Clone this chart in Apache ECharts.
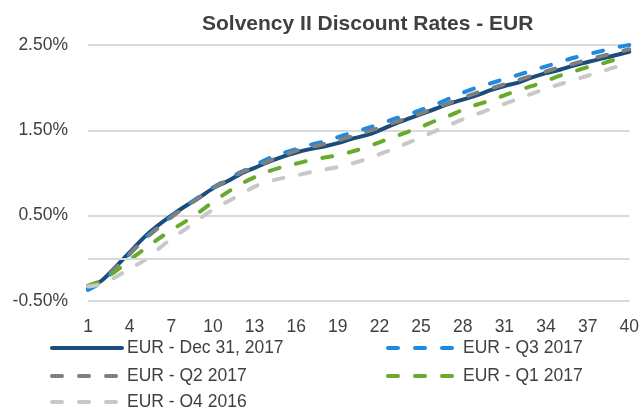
<!DOCTYPE html>
<html>
<head>
<meta charset="utf-8">
<script src="https://cdn.jsdelivr.net/npm/echarts@6/dist/echarts.min.js"></script>
<style>
html,body{margin:0;padding:0;background:#fff;}
#c{width:642px;height:407px;}
</style>
</head>
<body>
<div id="c"></div>
<script>
var maturities = [];
for (var i = 1; i <= 40; i++) maturities.push(String(i));

var yTicks = { min: -0.5, max: 2.5, interval: 1 };

var dec2017 = [-0.35,-0.26,-0.10,0.07,0.24,0.38,0.50,0.61,0.71,0.82,0.90,0.99,1.06,1.13,1.19,1.24,1.28,1.31,1.35,1.40,1.44,1.50,1.57,1.63,1.69,1.75,1.81,1.86,1.91,1.97,2.02,2.06,2.12,2.17,2.21,2.26,2.30,2.34,2.38,2.42];
var q32017 = [-0.37,-0.28,-0.12,0.05,0.22,0.36,0.49,0.61,0.72,0.83,0.92,1.01,1.09,1.17,1.23,1.28,1.33,1.37,1.42,1.47,1.52,1.57,1.63,1.68,1.74,1.80,1.87,1.94,2.00,2.05,2.10,2.15,2.20,2.25,2.30,2.35,2.39,2.43,2.47,2.50];
var q22017 = [-0.33,-0.26,-0.11,0.05,0.21,0.35,0.48,0.60,0.71,0.82,0.91,1.00,1.07,1.14,1.20,1.26,1.30,1.34,1.38,1.43,1.48,1.53,1.59,1.64,1.70,1.76,1.82,1.88,1.94,1.99,2.04,2.09,2.14,2.19,2.24,2.28,2.33,2.37,2.41,2.45];
var q12017 = [-0.32,-0.26,-0.15,-0.02,0.10,0.22,0.33,0.43,0.54,0.66,0.77,0.87,0.95,1.02,1.07,1.11,1.15,1.18,1.21,1.25,1.30,1.36,1.42,1.48,1.54,1.61,1.67,1.74,1.80,1.85,1.91,1.97,2.02,2.08,2.14,2.19,2.24,2.28,2.33,2.37];
var q42016 = [-0.33,-0.30,-0.22,-0.12,-0.03,0.10,0.23,0.34,0.46,0.57,0.66,0.75,0.84,0.90,0.94,0.97,1.01,1.04,1.07,1.11,1.16,1.22,1.28,1.35,1.42,1.49,1.56,1.63,1.69,1.75,1.81,1.87,1.93,1.99,2.04,2.09,2.14,2.19,2.24,2.28];

var seriesNames = ['EUR - Dec 31, 2017','EUR - Q3 2017','EUR - Q2 2017','EUR - Q1 2017','EUR - Q4 2016'];

var FONT = '"Liberation Sans",Arial,sans-serif';
var TXT = '#404040';
var FS = 17.5;

function mk(name, data, color, width, dashed) {
  return {
    name: name, type: 'line', data: data,
    smooth: 0.3, symbol: 'none',
    lineStyle: { color: color, width: width, type: dashed ? [10,17] : 'solid', cap: 'round', join: 'round' },
    itemStyle: { color: color }
  };
}

function leg(name, left, top) {
  return {
    data: [name], left: left, top: top, itemWidth: 70, itemHeight: 18, itemGap: 5,
    itemStyle: { opacity: 0 },
    lineStyle: { width: 4, cap: 'round' },
    textStyle: { fontFamily: FONT, fontSize: FS, color: TXT },
    selectedMode: false
  };
}

var series = [{
  name: '_zero', type: 'line', data: [], silent: true,
  markLine: {
    silent: true, symbol: 'none', label: { show: false },
    lineStyle: { color: '#D9D9D9', width: 2, type: 'solid' },
    data: [{ yAxis: 0 }]
  }
}, 
  mk(seriesNames[0], dec2017, '#1A4C7C', 4, false),
  mk(seriesNames[1], q32017, '#1E8AE0', 4, true),
  mk(seriesNames[2], q22017, '#7F7F7F', 4, true),
  mk(seriesNames[3], q12017, '#67AA2C', 4, true),
  mk(seriesNames[4], q42016, '#C8C8C8', 4, true)
];

var chart = echarts.init(document.getElementById('c'), null, { renderer: 'canvas' });
chart.setOption({
  animation: false,
  backgroundColor: '#fff',
  title: {
    text: 'Solvency II Discount Rates - EUR',
    left: 197, top: 9,
    textStyle: { fontFamily: FONT, fontSize: 21, fontWeight: 'bold', color: TXT }
  },
  grid: { left: 88, right: 10, top: 45, bottom: 106, containLabel: false },
  xAxis: {
    type: 'category', data: maturities, boundaryGap: false,
    axisLine: { show: false, onZero: false },
    axisTick: { show: false },
    splitLine: { show: false },
    axisLabel: { interval: 2, margin: 17, fontFamily: FONT, fontSize: FS, color: TXT }
  },
  yAxis: {
    type: 'value', min: yTicks.min, max: yTicks.max, interval: yTicks.interval,
    axisLine: { show: false }, axisTick: { show: false },
    splitLine: { lineStyle: { color: '#D9D9D9', width: 2 } },
    axisLabel: { margin: 20, fontFamily: FONT, fontSize: FS, color: TXT,
      formatter: function (v) { return v.toFixed(2) + '%'; } }
  },
  legend: [
    leg(seriesNames[0], 45, 334),
    leg(seriesNames[1], 381, 334),
    leg(seriesNames[2], 45, 362),
    leg(seriesNames[3], 381, 362),
    leg(seriesNames[4], 45, 388)
  ],
  series: series
});
</script>
</body>
</html>
